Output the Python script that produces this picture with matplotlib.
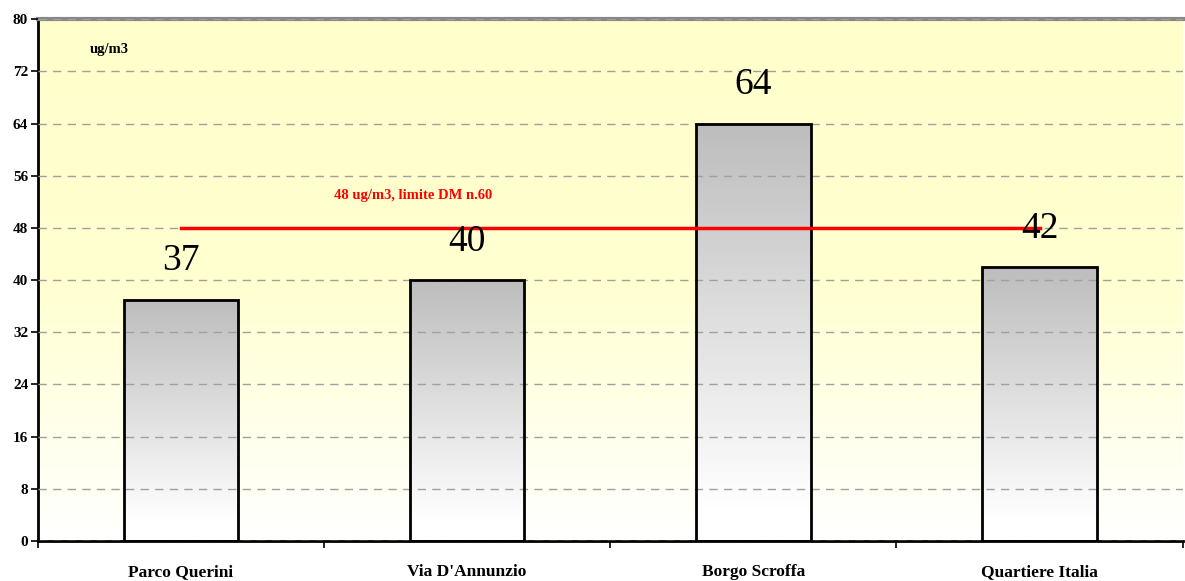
import numpy as np
import matplotlib.pyplot as plt
from matplotlib.colors import LinearSegmentedColormap

# data
stations = ["Parco Querini", "Via D'Annunzio", "Borgo Scroffa", "Quartiere Italia"]
values = [37, 40, 64, 42]
limit = 48
yticks = [0, 8, 16, 24, 32, 40, 48, 56, 64, 72, 80]

plt.rcParams['font.family'] = ['Liberation Serif', 'DejaVu Serif']

fig = plt.figure(figsize=(11.85, 5.81), dpi=100)
ax = fig.add_axes([0.032, 0.069, 0.966, 0.898])

x = np.arange(len(stations))
ax.set_xlim(-0.5, len(stations) - 0.5)
ax.set_ylim(0, 80)

# background gradient yellow -> white
bg = LinearSegmentedColormap.from_list('bg', ['#ffffff', '#ffffd0', '#ffffcc'])
grad = np.linspace(0, 1, 256).reshape(-1, 1)
ax.imshow(grad, cmap=bg, aspect='auto', origin='lower',
          extent=(-0.5, len(stations) - 0.5, 0, 80), zorder=0)

# bars with gray gradient
barcm = LinearSegmentedColormap.from_list('bar', [(0, '#ffffff'), (0.08, '#ffffff'), (1, '#bdbdbd')])
w = 0.4
for xi, v in zip(x, values):
    ax.imshow(grad, cmap=barcm, aspect='auto', origin='lower',
              extent=(xi - w / 2, xi + w / 2, 0, v), zorder=2)
bars = ax.bar(x, values, width=w, facecolor='none', edgecolor='black', linewidth=2, zorder=3)

# limit line
ax.plot([x[0], x[-1]], [limit, limit], color='red', linewidth=2.5, zorder=4)
ax.text(0.81, 53.0, "48 ug/m3, limite DM n.60", color='red', fontsize=10.5,
        fontweight='bold', ha='center', va='center', zorder=5)

# value labels
for xi, v in zip(x, values):
    ax.text(xi, v + 4.5, str(v), fontsize=27, ha='center', va='baseline', zorder=5)

ax.text(-0.318, 75.4, "ug/m3", fontsize=10.5, fontweight='bold', ha='left', va='center')

ax.set_yticks(yticks)
ax.set_yticklabels([str(t) for t in yticks], fontsize=11, fontweight='bold')
ax.yaxis.grid(True, linestyle=(0, (6, 4.5)), color='#a0a0a0', linewidth=1)
ax.set_axisbelow(False)
for ln in ax.get_ygridlines():
    ln.set_zorder(1)

ax.set_xticks(np.arange(-0.5, len(stations), 1.0))
ax.set_xticklabels([])
ax.set_xticks(x, minor=True)
ax.set_xticklabels(stations, minor=True, fontsize=12.5, fontweight='bold', va='baseline')
ax.tick_params(axis='x', which='minor', length=0, pad=25)
ax.tick_params(axis='x', which='major', length=5, width=1.2, direction='out')
ax.tick_params(axis='y', length=5, width=1.2, direction='out', pad=2)

ax.spines['left'].set_linewidth(2)
ax.spines['bottom'].set_linewidth(2)
ax.spines['top'].set_color('#888888')
ax.spines['top'].set_linewidth(3)
ax.spines['right'].set_visible(False)

fig.savefig('out.png', dpi=100)
